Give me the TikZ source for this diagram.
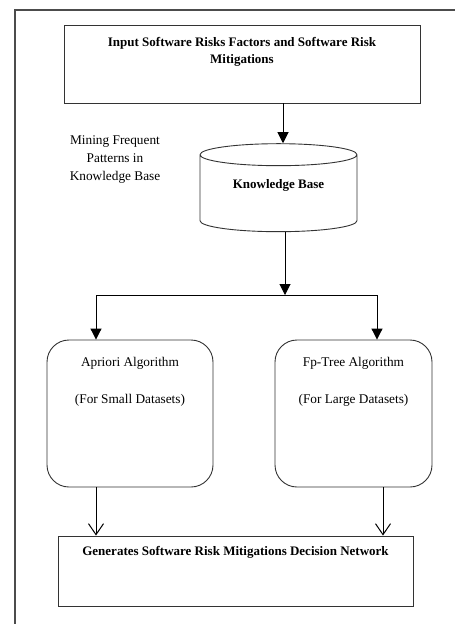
\documentclass[tikz,border=0pt]{standalone}
\usepackage{fontspec}
\setmainfont{Liberation Serif}
\usetikzlibrary{arrows.meta,shapes.geometric}

\begin{document}
\begin{tikzpicture}[x=1pt,y=-1pt,
  boite/.style={draw=black!80,line width=0.9pt},
  texte/.style={inner sep=0pt,font=\fontsize{13.3}{18}\selectfont},
  titre/.style={inner sep=0pt,font=\fontsize{13}{17}\selectfont\bfseries,align=center},
  fleche/.style={-{Triangle[length=11pt,width=11pt]},line width=1pt},
  flecheouverte/.style={-{Straight Barb[length=11pt,width=15pt]},line width=1pt}]

% Cadre
\useasboundingbox (0,0) rectangle (455,624);
\draw[black!70,line width=1.4pt] (15,624) -- (15,10) -- (455,10);

% Entree
\node[boite,minimum width=356pt,minimum height=78pt] (entree) at (242,64) {};
\node[titre] (entreetxt) at (242,52) {Input Software Risks Factors and Software Risk\\Mitigations};

% Base de connaissances
\node[boite,cylinder,shape border rotate=90,aspect=3.3,minimum width=157pt,minimum height=88pt] (base) at (278.5,195) {};
\node[titre] (basetxt) at (278.5,185) {Knowledge Base};
\node[texte,align=center] (fouille) at (115,160) {Mining Frequent\\Patterns in\\Knowledge Base};

% Algorithmes
\node[boite,rounded corners=22pt,minimum width=166pt,minimum height=147pt] (apriori) at (130,413.5) {};
\node[texte] (aprioritxt) at (130,363) {Apriori Algorithm};
\node[texte] (apriorisub) at (130,400) {(For Small Datasets)};
\node[boite,rounded corners=22pt,minimum width=157pt,minimum height=147pt] (fptree) at (353.5,413.5) {};
\node[texte] (fptreetxt) at (353.5,363) {Fp-Tree Algorithm};
\node[texte] (fptreesub) at (353.5,400) {(For Large Datasets)};

% Sortie
\node[boite,minimum width=355pt,minimum height=70pt] (sortie) at (235.5,571) {};
\node[titre] (sortietxt) at (235.5,552) {Generates Software Risk Mitigations Decision Network};

% Fleches
\coordinate (fourche) at (285,295);
\draw[fleche] ([xshift=41pt]entree.south) -- ([xshift=41pt]entree.south |- base.north);
\draw[fleche] (base.south -| fourche) -- (fourche);
\draw[fleche] (fourche) -| ([xshift=-34pt]apriori.north);
\draw[fleche] (fourche) -| ([xshift=23.5pt]fptree.north);
\draw[flecheouverte] ([xshift=-34pt]apriori.south) -- ([xshift=-34pt]apriori.south |- sortie.north);
\draw[flecheouverte] ([xshift=29.5pt]fptree.south) -- ([xshift=29.5pt]fptree.south |- sortie.north);

\end{tikzpicture}
\end{document}
